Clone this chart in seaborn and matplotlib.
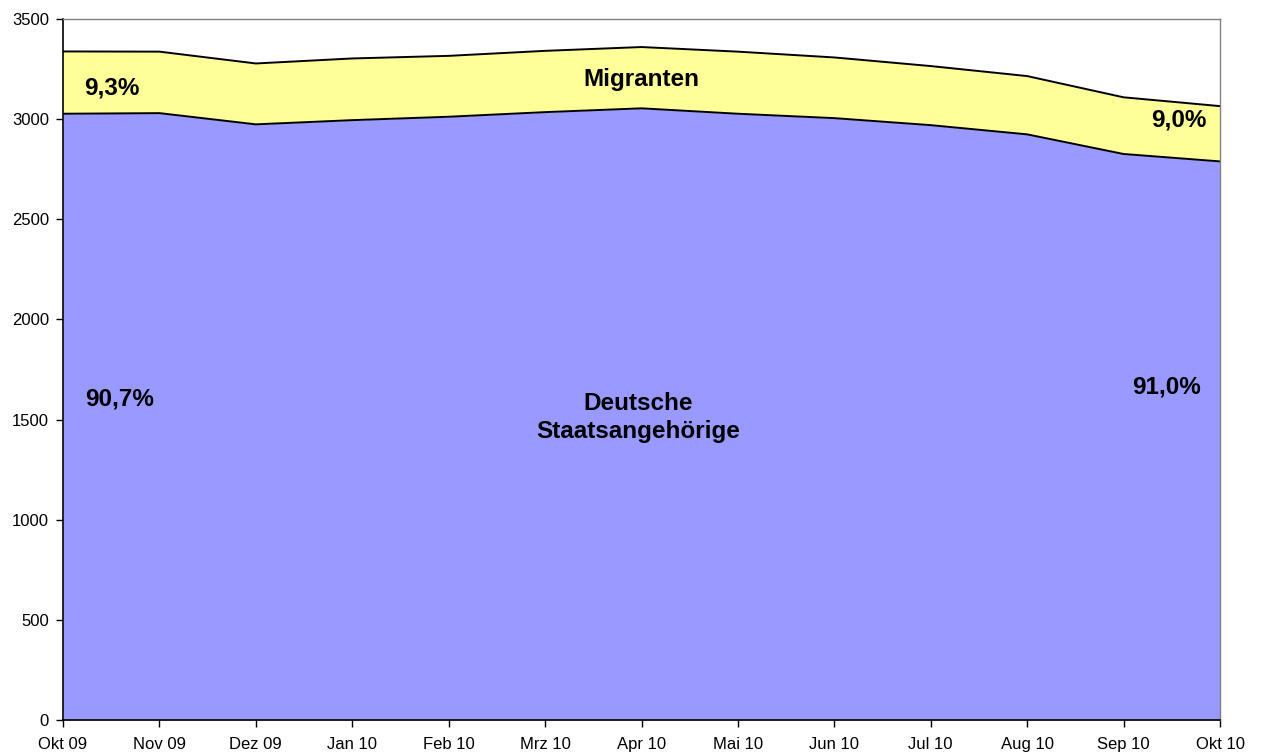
import pandas as pd
import matplotlib
matplotlib.use("Agg")
import matplotlib.pyplot as plt
import seaborn as sns

# Monthly values
months = ["Okt 09", "Nov 09", "Dez 09", "Jan 10", "Feb 10", "Mrz 10", "Apr 10",
          "Mai 10", "Jun 10", "Jul 10", "Aug 10", "Sep 10", "Okt 10"]
deutsche = [3027, 3030, 2974, 2995, 3012, 3035, 3054, 3027, 3005, 2970, 2924, 2826, 2789]
migranten = [311, 307, 304, 308, 304, 306, 306, 310, 303, 295, 291, 283, 276]
y_ticks = [0, 500, 1000, 1500, 2000, 2500, 3000, 3500]


def pct(v):
    return f"{v * 100:.1f}%".replace(".", ",")


def main():
    sns.set_theme(style="white")
    plt.rcParams["font.family"] = ["Liberation Sans", "DejaVu Sans"]

    df = pd.DataFrame({"idx": range(len(months)), "deutsche": deutsche, "migranten": migranten})
    df["total"] = df["deutsche"] + df["migranten"]

    fig = plt.figure(figsize=(12.63, 7.55), dpi=100)
    ax = fig.add_axes([63 / 1263, 35 / 755, 1157 / 1263, 701 / 755])

    # stacked areas
    ax.fill_between(df["idx"], 0, df["deutsche"], color="#9999FF", lw=0, zorder=1)
    ax.fill_between(df["idx"], df["deutsche"], df["total"], color="#FFFF99", lw=0, zorder=1)
    sns.lineplot(data=df, x="idx", y="deutsche", color="black", lw=1.4, ax=ax, zorder=2)
    sns.lineplot(data=df, x="idx", y="total", color="black", lw=1.4, ax=ax, zorder=2)

    ax.set_xlim(0, len(months) - 1)
    ax.set_ylim(0, 3500)
    ax.set_xticks(range(len(months)))
    ax.set_xticklabels(months)
    ax.set_yticks(y_ticks)
    ax.set_xlabel("")
    ax.set_ylabel("")
    ax.tick_params(axis="both", labelsize=12, colors="black", direction="out",
                   length=5, width=1, bottom=True, left=True)
    ax.tick_params(axis="x", pad=7)
    ax.tick_params(axis="y", pad=5)

    for side in ["left", "bottom"]:
        ax.spines[side].set_color("black")
        ax.spines[side].set_linewidth(1.2)
    for side in ["top", "right"]:
        ax.spines[side].set_color("#808080")
        ax.spines[side].set_linewidth(1.0)

    first = df.iloc[0]
    last = df.iloc[-1]
    bold = dict(fontsize=17.5, fontweight="bold", ha="center", va="center", color="black")
    ax.text(0.51, 3155, pct(first["migranten"] / first["total"]), **bold)
    ax.text(0.59, 1603, pct(first["deutsche"] / first["total"]), **bold)
    ax.text(11.57, 2995, pct(last["migranten"] / last["total"]), **bold)
    ax.text(11.45, 1662, pct(last["deutsche"] / last["total"]), **bold)
    ax.text(6.0, 3200, "Migranten", **bold)
    ax.text(5.97, 1510, "Deutsche\nStaatsangehörige", linespacing=1.25, **bold)

    fig.savefig("out.png", dpi=100)


if __name__ == "__main__":
    main()
